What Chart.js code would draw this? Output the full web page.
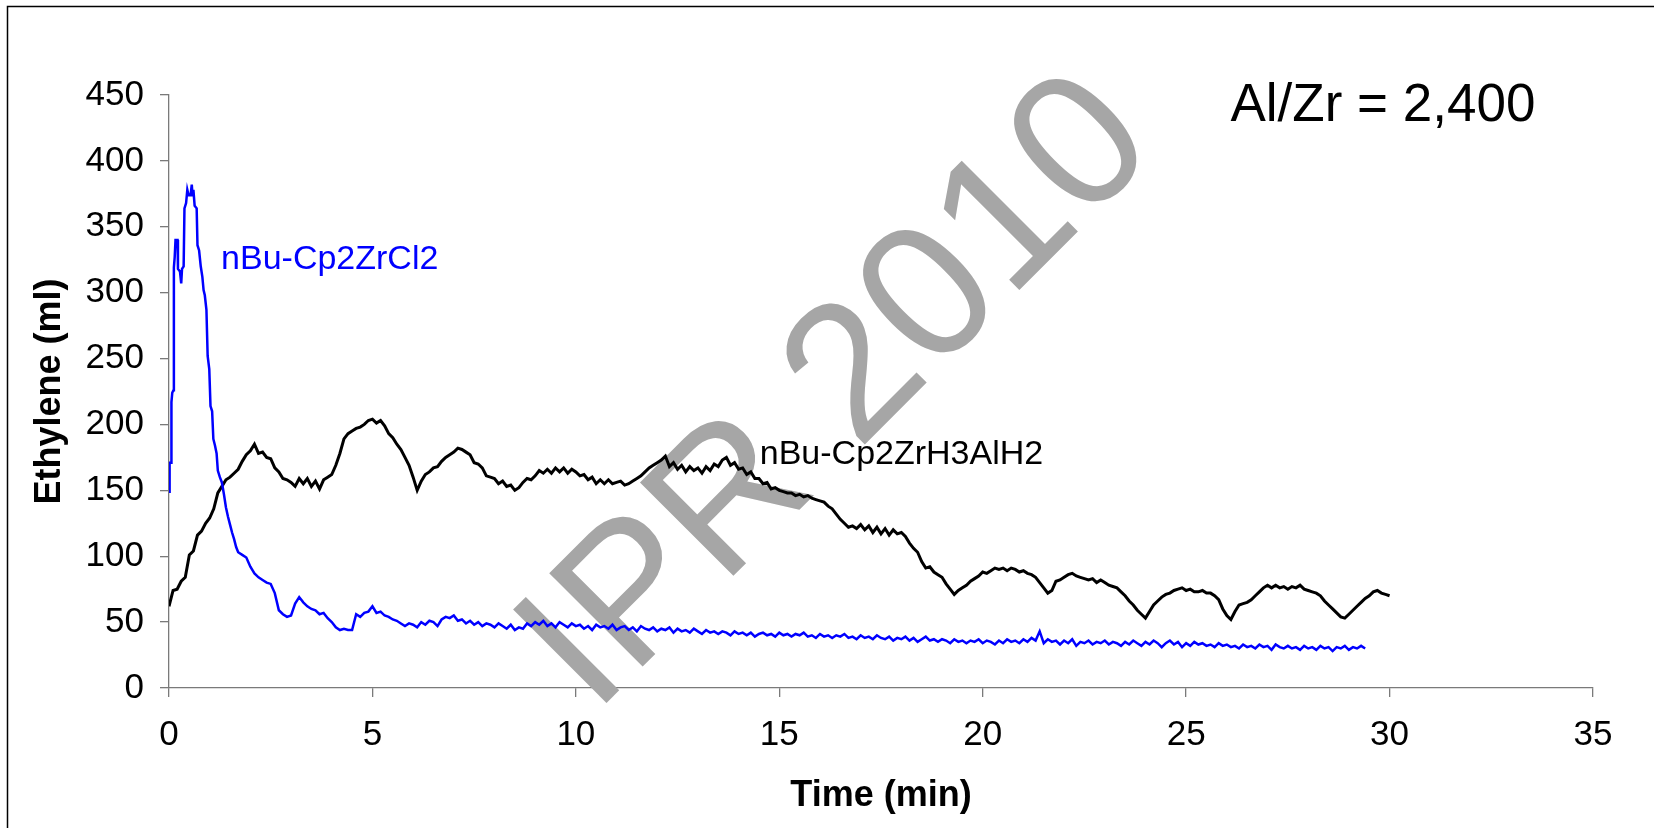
<!DOCTYPE html>
<html>
<head>
<meta charset="utf-8">
<script src="https://cdn.jsdelivr.net/npm/chart.js@4.4.1/dist/chart.umd.min.js"></script>
<style>
  html, body { margin: 0; padding: 0; background: #ffffff; }
  canvas { display: block; }
</style>
</head>
<body>
<canvas id="c" width="1654" height="828" style="width:1654px;height:828px"></canvas>
<script>
// ---------------- data ----------------
const xTickValues = [0, 5, 10, 15, 20, 25, 30, 35];
const yTickValues = [0, 50, 100, 150, 200, 250, 300, 350, 400, 450];

const seriesNames = ['nBu-Cp2ZrCl2', 'nBu-Cp2ZrH3AlH2'];

// nBu-Cp2ZrCl2 : fast start-up peak (minutes, ml)
const bluePeakTime = [0, 0.01, 0.02, 0.05, 0.06, 0.08, 0.11, 0.12, 0.14, 0.16, 0.21, 0.22, 0.27, 0.3, 0.32, 0.36,
  0.38, 0.42, 0.45, 0.48, 0.53, 0.56, 0.58, 0.6, 0.63, 0.68, 0.7, 0.74, 0.78, 0.82, 0.85, 0.88, 0.92, 0.95, 0.99,
  1.02, 1.06, 1.09, 1.13, 1.17, 1.2, 1.25, 1.3, 1.35, 1.4, 1.45, 1.5, 1.55, 1.6, 1.65, 1.7, 1.8, 1.9];
const bluePeakVol = [149, 152, 171, 171, 217, 224, 226, 319, 327, 340, 340, 318, 316, 307, 318, 320,
  364, 368, 378, 374, 374, 382, 373, 378, 366, 364, 336, 332, 320, 312, 302, 298, 287, 252, 242,
  214, 210, 189, 184, 178, 165, 160, 156, 147, 137, 130, 124, 118, 113, 107, 103, 101, 99];

// nBu-Cp2ZrCl2 : rest of the run, one reading every 0.1 min from 2.0 min
const BLUE_TAIL_START = 2.0;
const BLUE_STEP = 0.1;
const blueTailVol = [
  92, 87, 84, 82, 80, 79, 72, 59, 56, 54,
  55, 64, 69, 65, 62, 60, 59, 56, 57, 53,
  50, 46, 44, 45, 44, 44, 56, 54, 57, 58,
  62, 57, 58, 55, 54, 52, 51, 49, 47, 49,
  48, 46, 50, 48, 51, 50, 47, 52, 54, 53,
  55, 51, 52, 49, 51, 48, 50, 47, 49, 48,
  46, 49, 47, 45, 48, 44, 46, 45, 49, 47,
  50, 48, 51, 47, 49, 46, 50, 48, 46, 49,
  47, 48, 45, 47, 44, 48, 46, 47, 45, 48,
  44, 46, 47, 44, 46, 43, 47, 45, 44, 46,
  43, 45, 44, 46, 42, 45, 43, 44, 42, 45,
  43, 41, 44, 42, 43, 41, 43, 42, 40, 43,
  41, 42, 40, 42, 39, 41, 42, 40, 41, 39,
  42, 40, 41, 39, 41, 40, 42, 39, 40, 38,
  41, 39, 40, 38, 40, 39, 41, 38, 39, 37,
  40, 38, 39, 37, 40, 38, 37, 39, 36, 38,
  37, 39, 36, 38, 35, 37, 39, 36, 37, 35,
  37, 36, 34, 37, 35, 36, 34, 36, 35, 37,
  34, 36, 35, 33, 36, 34, 37, 35, 36, 34,
  37, 35, 38, 36, 43, 34, 37, 35, 36, 33,
  36, 34, 37, 32, 35, 34, 36, 33, 35, 34,
  36, 33, 35, 34, 32, 35, 33, 36, 34, 32,
  35, 33, 36, 34, 31, 34, 36, 33, 35, 31,
  34, 32, 35, 33, 34, 32, 33, 31, 34, 32,
  33, 31, 32, 30, 33, 31, 32, 30, 33, 31,
  32, 29, 33, 31, 30, 32, 30, 31, 29, 32,
  30, 31, 29, 32, 30, 31, 28, 31, 30, 32,
  29, 31, 30, 32, 30
];

// nBu-Cp2ZrH3AlH2 : one reading every 0.1 min from 0 to 30 min
const BLACK_START = 0;
const BLACK_STEP = 0.1;
const blackVol = [
  62, 74, 75, 81, 84, 101, 104, 116, 119, 125,
  129, 136, 148, 153, 158, 160, 163, 166, 172, 177,
  180, 185, 178, 179, 175, 174, 167, 164, 159, 158,
  156, 153, 159, 155, 159, 153, 157, 151, 158, 160,
  162, 169, 178, 189, 193, 195, 197, 198, 200, 203,
  204, 201, 203, 199, 193, 190, 185, 181, 175, 169,
  160, 150, 157, 162, 164, 167, 168, 172, 175, 177,
  179, 182, 181, 179, 177, 171, 170, 167, 161, 160,
  159, 155, 157, 153, 154, 150, 152, 156, 159, 158,
  161, 165, 163, 166, 163, 167, 164, 167, 163, 166,
  164, 161, 162, 158, 160, 155, 158, 155, 158, 155,
  156, 157, 154, 155, 157, 159, 161, 164, 167, 169,
  171, 173, 176, 168, 171, 166, 169, 164, 168, 165,
  167, 163, 168, 165, 170, 168, 173, 175, 169, 171,
  166, 167, 162, 164, 159, 159, 155, 156, 151, 152,
  150, 149, 148, 148, 146, 147, 145, 146, 144, 143,
  142, 141, 138, 136, 132, 128, 125, 122, 123, 121,
  124, 120, 123, 118, 122, 117, 121, 116, 120, 117,
  118, 115, 110, 106, 103, 96, 91, 92, 88, 86,
  84, 79, 75, 71, 74, 76, 78, 81, 83, 85,
  88, 87, 89, 91, 90, 91, 89, 91, 90, 88,
  89, 87, 86, 84, 80, 76, 72, 74, 81, 82,
  84, 86, 87, 85, 84, 83, 82, 83, 80, 82,
  80, 78, 77, 76, 73, 70, 66, 63, 59, 56,
  53, 58, 63, 66, 69, 71, 72, 74, 75, 76,
  74, 75, 73, 73, 74, 72, 72, 70, 67, 60,
  55, 52, 58, 63, 64, 65, 67, 70, 73, 76,
  78, 76, 78, 76, 77, 75, 77, 76, 78, 75,
  74, 73, 72, 70, 66, 63, 60, 57, 54, 53,
  56, 59, 62, 65, 68, 70, 73, 74, 72, 71,
  70
];

// ---------------- build points ----------------
const bluePoints = bluePeakTime.map((t, i) => ({ x: t, y: bluePeakVol[i] }))
  .concat(blueTailVol.map((v, i) => ({ x: +(BLUE_TAIL_START + i * BLUE_STEP).toFixed(2), y: v })));
const blackPoints = blackVol.map((v, i) => ({ x: +(BLACK_START + i * BLACK_STEP).toFixed(2), y: v }));

// ---------------- presentation ----------------
const FONT = "'Liberation Sans', Arial, Helvetica, sans-serif";

const notes = [
  { text: 'nBu-Cp2ZrCl2', x: 1.28, y: 318, color: '#0000ff', size: 34 },
  { text: 'nBu-Cp2ZrH3AlH2', x: 14.52, y: 170, color: '#000000', size: 34 },
  { text: 'Al/Zr = 2,400', x: 26.09, y: 430, color: '#000000', size: 53 }
];
const watermark = { text: 'IPR 2010', x: 17.4, y: 194, angle: -45, size: 192, color: '#a6a6a6' };

const framePlugin = {
  id: 'frame',
  beforeDraw(chart) {
    const ctx = chart.ctx;
    ctx.save();
    ctx.strokeStyle = '#000';
    ctx.lineWidth = 1.5;
    ctx.beginPath();
    ctx.moveTo(7.5, chart.height);
    ctx.lineTo(7.5, 6.5);
    ctx.lineTo(chart.width, 6.5);
    ctx.stroke();
    ctx.restore();
  }
};

const watermarkPlugin = {
  id: 'watermark',
  beforeDatasetsDraw(chart) {
    const { ctx, scales } = chart;
    const px = scales.x.getPixelForValue(watermark.x);
    const py = scales.y.getPixelForValue(watermark.y);
    ctx.save();
    ctx.translate(px, py);
    ctx.rotate(watermark.angle * Math.PI / 180);
    ctx.font = `${watermark.size}px ${FONT}`;
    ctx.fillStyle = watermark.color;
    ctx.textAlign = 'center';
    ctx.textBaseline = 'alphabetic';
    ctx.fillText(watermark.text, 0, 0);
    ctx.restore();
  }
};

const notesPlugin = {
  id: 'notes',
  afterDatasetsDraw(chart) {
    const { ctx, scales } = chart;
    ctx.save();
    notes.forEach(n => {
      ctx.font = `${n.size}px ${FONT}`;
      ctx.fillStyle = n.color;
      ctx.textAlign = 'left';
      ctx.textBaseline = 'alphabetic';
      ctx.fillText(n.text, scales.x.getPixelForValue(n.x), scales.y.getPixelForValue(n.y));
    });
    ctx.restore();
  }
};

const AXIS_COLOR = '#7a7a7a';

new Chart(document.getElementById('c'), {
  type: 'line',
  data: {
    datasets: [
      {
        label: seriesNames[0],
        data: bluePoints,
        borderColor: '#0000ff',
        borderWidth: 2.5,
        pointRadius: 0,
        tension: 0,
        fill: false
      },
      {
        label: seriesNames[1],
        data: blackPoints,
        borderColor: '#000000',
        borderWidth: 3,
        pointRadius: 0,
        tension: 0,
        fill: false
      }
    ]
  },
  options: {
    responsive: false,
    animation: false,
    events: [],
    layout: { padding: { left: 0, top: 95, right: 61, bottom: 0 } },
    plugins: {
      legend: { display: false },
      tooltip: { enabled: false }
    },
    scales: {
      x: {
        type: 'linear',
        min: 0,
        max: 35,
        afterBuildTicks: s => { s.ticks = xTickValues.map(v => ({ value: v })); },
        afterFit: s => { s.height = 140; },
        ticks: { color: '#000', font: { family: FONT, size: 35 }, padding: 17, maxRotation: 0 },
        grid: { drawOnChartArea: false, drawTicks: true, tickLength: 9, color: AXIS_COLOR, lineWidth: 1.3 },
        border: { display: true, color: AXIS_COLOR, width: 1.3 },
        title: {
          display: true,
          text: 'Time (min)',
          color: '#000',
          font: { family: FONT, size: 36, weight: 'bold' },
          padding: { top: 0, bottom: 10 }
        }
      },
      y: {
        type: 'linear',
        min: 0,
        max: 450,
        afterBuildTicks: s => { s.ticks = yTickValues.map(v => ({ value: v })); },
        afterFit: s => { s.width = 169; },
        ticks: { color: '#000', font: { family: FONT, size: 35 }, padding: 16 },
        grid: { drawOnChartArea: false, drawTicks: true, tickLength: 9, color: AXIS_COLOR, lineWidth: 1.3 },
        border: { display: true, color: AXIS_COLOR, width: 1.3 },
        title: {
          display: true,
          text: 'Ethylene (ml)',
          color: '#000',
          font: { family: FONT, size: 36, weight: 'bold' },
          padding: { top: 28, bottom: 0 }
        }
      }
    }
  },
  plugins: [framePlugin, watermarkPlugin, notesPlugin]
});
</script>
</body>
</html>
